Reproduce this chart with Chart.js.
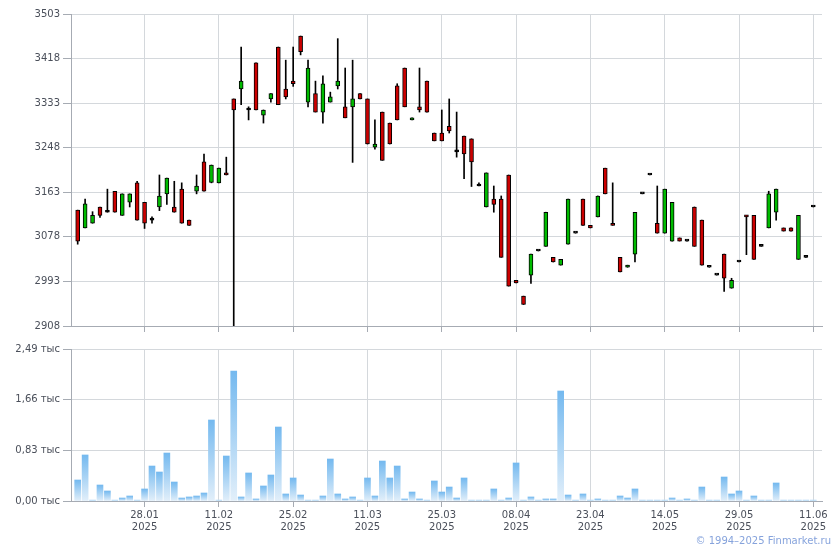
<!DOCTYPE html>
<html>
<head>
<meta charset="utf-8">
<script src="https://cdn.jsdelivr.net/npm/chart.js@4.4.1/dist/chart.umd.min.js"></script>
<style>
  body { margin: 0; background: #fff; }
  #wrap { position: relative; width: 840px; height: 550px; }
  canvas { position: absolute; left: 0; }
  #price { top: 0; }
  #volume { top: 336px; }
  #copy { position: absolute; right: 9px; top: 535px; font: 10px "DejaVu Sans", sans-serif; color: #86a3dc; }
</style>
</head>
<body>
<div id="wrap">
  <canvas id="price" width="840" height="336"></canvas>
  <canvas id="volume" width="840" height="214"></canvas>
  <div id="copy">© 1994–2025 Finmarket.ru</div>
</div>
<script>
const dates = [
  '15.01.2025','16.01.2025','17.01.2025','20.01.2025','21.01.2025','22.01.2025','23.01.2025','24.01.2025','27.01.2025','28.01.2025',
  '29.01.2025','30.01.2025','31.01.2025','03.02.2025','04.02.2025','05.02.2025','06.02.2025','07.02.2025','10.02.2025','11.02.2025',
  '12.02.2025','13.02.2025','14.02.2025','17.02.2025','18.02.2025','19.02.2025','20.02.2025','21.02.2025','24.02.2025','25.02.2025',
  '26.02.2025','27.02.2025','28.02.2025','03.03.2025','04.03.2025','05.03.2025','06.03.2025','07.03.2025','10.03.2025','11.03.2025',
  '12.03.2025','13.03.2025','14.03.2025','17.03.2025','18.03.2025','19.03.2025','20.03.2025','21.03.2025','24.03.2025','25.03.2025',
  '26.03.2025','27.03.2025','28.03.2025','31.03.2025','01.04.2025','02.04.2025','03.04.2025','04.04.2025','07.04.2025','08.04.2025',
  '09.04.2025','10.04.2025','11.04.2025','14.04.2025','15.04.2025','16.04.2025','17.04.2025','18.04.2025','22.04.2025','23.04.2025',
  '24.04.2025','25.04.2025','28.04.2025','29.04.2025','30.04.2025','05.05.2025','06.05.2025','07.05.2025','13.05.2025','14.05.2025',
  '15.05.2025','16.05.2025','19.05.2025','20.05.2025','21.05.2025','22.05.2025','23.05.2025','26.05.2025','28.05.2025','29.05.2025',
  '30.05.2025','31.05.2025','02.06.2025','03.06.2025','04.06.2025','05.06.2025','06.06.2025','09.06.2025','10.06.2025','11.06.2025'
];

const opens = [
  3129,3095,3104,3135,3125,3165,3119,3144,3181,3144,
  3110,3135,3160,3135,3169,3110,3165,3221,3182,3181,
  3200,3341,3360,3320,3410,3310,3341,3440,3360,3375,
  3461,3335,3351,3316,3335,3366,3326,3326,3351,3341,
  3249,3316,3295,3366,3400,3301,3326,3375,3276,3276,
  3289,3240,3270,3265,3175,3135,3150,3150,3196,2995,
  2965,3005,3051,3060,3039,3024,3064,3085,3150,3100,
  3116,3209,3104,3039,3020,3045,3160,3196,3104,3085,
  3070,3076,3070,3135,3110,3020,3005,3045,2980,3030,
  3119,3119,3060,3095,3125,3095,3095,3035,3039,3135
];
const highs = [
  3129,3150,3126,3135,3169,3165,3160,3160,3184,3144,
  3116,3196,3190,3184,3181,3110,3196,3236,3215,3209,
  3230,3341,3440,3326,3410,3320,3351,3440,3415,3440,
  3461,3415,3375,3385,3354,3456,3400,3415,3351,3341,
  3301,3316,3295,3370,3400,3305,3400,3375,3276,3320,
  3341,3316,3270,3265,3181,3200,3175,3156,3196,2995,
  2965,3045,3051,3125,3039,3035,3150,3085,3150,3100,
  3156,3209,3181,3039,3024,3125,3160,3196,3175,3169,
  3144,3076,3070,3135,3110,3020,3005,3045,2999,3030,
  3119,3119,3060,3165,3169,3095,3095,3119,3039,3135
];
const lows = [
  3064,3095,3104,3115,3125,3125,3119,3135,3110,3094,
  3104,3128,3140,3125,3104,3100,3160,3165,3181,3181,
  3196,2908,3330,3301,3320,3295,3335,3330,3341,3365,
  3425,3326,3316,3295,3335,3360,3305,3220,3341,3255,
  3245,3224,3255,3301,3326,3301,3316,3316,3261,3261,
  3276,3230,3189,3174,3175,3135,3125,3039,2984,2990,
  2949,2989,3051,3060,3030,3024,3064,3085,3100,3095,
  3116,3160,3100,3011,3020,3030,3160,3196,3085,3085,
  3070,3070,3070,3060,3024,3020,3005,2974,2980,3030,
  3044,3035,3060,3095,3110,3089,3089,3035,3039,3135
];
const closes = [
  3070,3141,3119,3119,3125,3125,3160,3160,3110,3104,
  3110,3156,3190,3125,3104,3100,3175,3165,3215,3209,
  3196,3320,3375,3320,3320,3320,3351,3330,3345,3370,
  3431,3400,3316,3370,3345,3375,3305,3341,3341,3255,
  3255,3224,3255,3301,3326,3305,3320,3316,3261,3261,
  3280,3240,3236,3221,3175,3200,3140,3039,2984,2990,
  2949,3045,3051,3125,3030,3035,3150,3085,3100,3095,
  3156,3160,3100,3011,3024,3125,3160,3196,3085,3169,
  3144,3070,3070,3060,3024,3020,3005,2999,2995,3030,
  3116,3035,3060,3160,3169,3089,3089,3119,3039,3135
];
const volumes = [
  344,754,16,262,164,16,49,82,16,197,
  573,475,786,311,49,66,82,131,1327,16,
  737,2130,66,459,33,246,426,1212,115,377,
  98,16,16,82,688,115,33,66,16,377,
  82,655,377,573,33,147,33,16,328,147,
  229,49,377,16,16,16,197,16,49,623,
  16,66,16,33,33,1802,98,16,115,16,
  33,16,16,82,49,197,16,16,16,16,
  49,16,33,16,229,16,16,393,115,164,
  16,82,16,16,295,16,16,16,16,16
];

const tickDates = ['28.01.2025','11.02.2025','25.02.2025','11.03.2025','25.03.2025','08.04.2025','23.04.2025','14.05.2025','29.05.2025','11.06.2025'];
const priceTicks = [2908, 2993, 3078, 3163, 3248, 3333, 3418, 3503];
const volumeTicks = [0, 830, 1660, 2490];

const gridColor = '#d4d8dc';
const axisColor = '#a6abb3';
const textColor = '#4a4f5a';
const upColor = '#00bb00';
const downColor = '#cc0000';

Chart.defaults.font.family = '"DejaVu Sans", sans-serif';
Chart.defaults.font.size = 10;
Chart.defaults.color = textColor;

const tickIndexes = tickDates.map(d => dates.indexOf(d));

function xScale(showLabels, height) {
    return {
        type: 'linear',
        min: -0.9,
        max: 100.17,
        offset: false,
        afterBuildTicks: (scale) => { scale.ticks = tickIndexes.map(v => ({value: v})); },
        afterFit: (scale) => { scale.height = height; },
        grid: { color: gridColor, tickColor: axisColor, tickLength: 6, offset: false },
        border: { color: axisColor },
        ticks: {
            display: showLabels,
            autoSkip: false,
            maxRotation: 0,
            padding: 2,
            callback: (value) => {
                const d = dates[value];
                return d ? [d.slice(0, 5), d.slice(6)] : '';
            }
        }
    };
}

function yScale(min, max, tickValues, format) {
    return {
        min,
        max,
        afterBuildTicks: (scale) => { scale.ticks = tickValues.map(v => ({value: v})); },
        afterFit: (scale) => { scale.width = 71; },
        grid: { color: gridColor, tickColor: axisColor, tickLength: 8 },
        border: { color: axisColor },
        ticks: { padding: 3, callback: format }
    };
}

function bodyColor(ctx) {
    const i = ctx.dataIndex;
    if (closes[i] > opens[i]) return upColor;
    if (closes[i] < opens[i]) return downColor;
    return '#000';
}

// each volume bar gets its own gradient, dark at the top, pale at the base
function volumeGradient(context) {
    const chart = context.chart;
    if (!chart.chartArea || context.dataIndex === undefined) return '#a8d3f5';
    const y = chart.scales.y;
    const top = y.getPixelForValue(volumes[context.dataIndex]);
    const base = y.getPixelForValue(0);
    if (base - top < 2) return '#b9dcf7';
    const g = chart.ctx.createLinearGradient(0, top, 0, base);
    g.addColorStop(0, '#74b9ef');
    g.addColorStop(1, '#e2effa');
    return g;
}

new Chart(document.getElementById('price'), {
    type: 'bar',
    data: {
        datasets: [{
            label: 'body',
            data: dates.map((d, i) => ({x: i, y: [opens[i], closes[i]]})),
            backgroundColor: bodyColor,
            borderColor: '#000',
            borderWidth: 1,
            borderSkipped: false,
            barThickness: 4,
            minBarLength: 2,
            grouped: false
        }, {
            label: 'wick',
            data: dates.map((d, i) => ({x: i, y: [lows[i], highs[i]]})),
            backgroundColor: '#000',
            barThickness: 1,
            grouped: false
        }]
    },
    options: {
        responsive: false,
        animation: false,
        layout: { padding: { top: 14, right: 18, left: 0, bottom: 0 } },
        plugins: { legend: { display: false }, tooltip: { enabled: false } },
        scales: {
            x: xScale(false, 10),
            y: yScale(2908, 3503, priceTicks, (v) => String(v))
        }
    }
});

new Chart(document.getElementById('volume'), {
    type: 'bar',
    data: {
        datasets: [{
            label: 'volume',
            data: dates.map((d, i) => ({x: i, y: volumes[i]})),
            backgroundColor: volumeGradient,
            barThickness: 6,
            grouped: false
        }]
    },
    options: {
        responsive: false,
        animation: false,
        layout: { padding: { top: 13, right: 18, left: 0, bottom: 0 } },
        plugins: { legend: { display: false }, tooltip: { enabled: false } },
        scales: {
            x: xScale(true, 49),
            y: yScale(0, 2490, volumeTicks, (v) => (v / 1000).toFixed(2).replace('.', ',') + ' тыс')
        }
    }
});
</script>
</body>
</html>
